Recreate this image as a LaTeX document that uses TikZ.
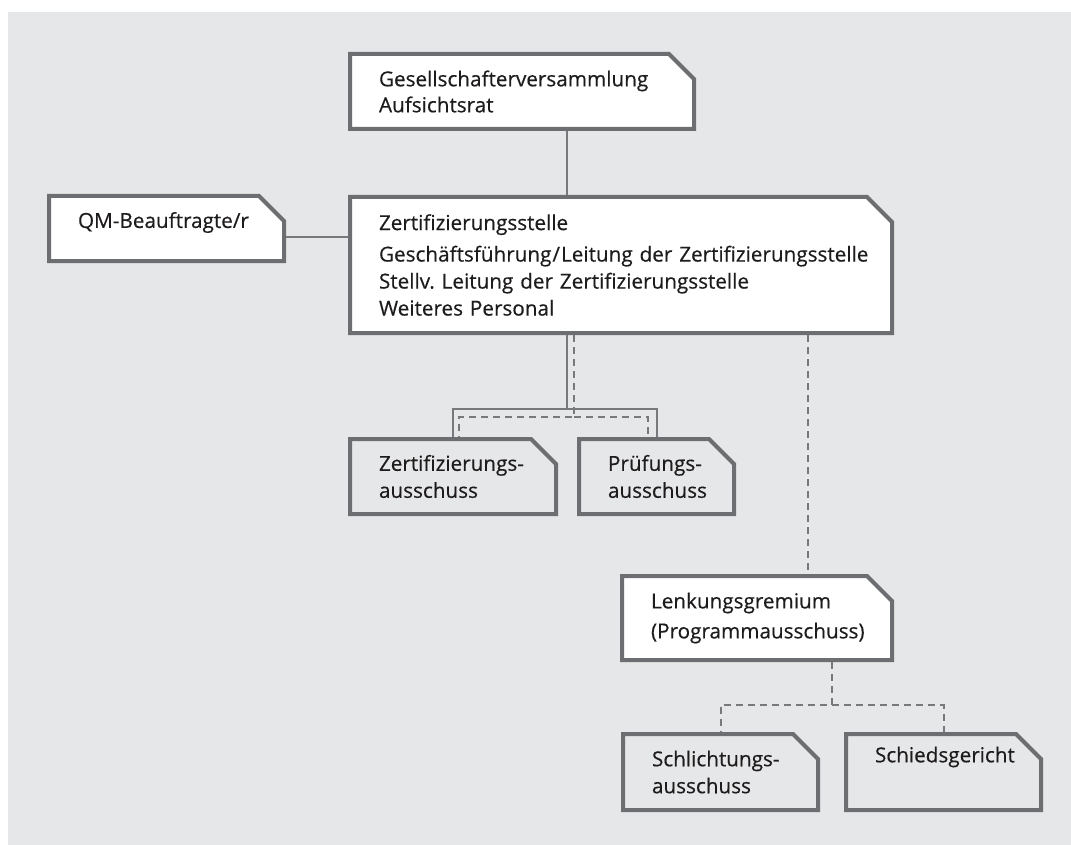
\documentclass[tikz,border=0pt]{standalone}
\usepackage{fontspec}
\setmainfont[FakeBold=0.4]{Open Sans}
\usetikzlibrary{calc,backgrounds}
\definecolor{bgc}{RGB}{230,231,232}
\definecolor{bordc}{RGB}{109,110,113}
\definecolor{linec}{RGB}{120,121,124}
\definecolor{txtc}{RGB}{30,27,28}
\tikzset{
  orgbox/.style={anchor=north west, inner xsep=31pt, inner ysep=0pt, outer sep=0pt,
    align=left, font=\fontsize{20.7}{27}\selectfont\frenchspacing, text=txtc},
  boxline/.style={draw=bordc, line width=4pt, line join=miter},
  conn/.style={draw=linec, line width=2pt},
  dconn/.style={conn, dash pattern=on 7pt off 5pt}
}
\newcommand\cutoutline[2]{%
  \draw[boxline, fill=#2] ($(#1.south west)+(2,-2)$) -- ($(#1.north west)+(2,2)$)
    -- ($(#1.north east)+(-27,2)$) -- ($(#1.north east)+(-2,27)$)
    -- ($(#1.south east)+(-2,-2)$) -- cycle;}
\begin{document}
\begin{tikzpicture}[x=1pt,y=-1pt]
\useasboundingbox (0,0) rectangle (1071,845);

\node[orgbox, text width=286pt, minimum height=79pt] (g) at (348,52)
  {\mbox{Gesellschafterversammlung}\\[-1pt]\mbox{Aufsichtsrat}};
\node[orgbox, text width=484pt, minimum height=140pt] (z) at (348,195)
  {\mbox{Zertifizierungsstelle}\\[4.5pt]\mbox{Geschäftsführung\kern1pt/\kern1pt Leitung der Zertifizierungsstelle}\\\mbox{Stellv. Leitung der Zertifizierungsstelle}\\\mbox{Weiteres Personal}};
\node[orgbox, text width=177pt, minimum height=69pt, text depth=17pt] (qm) at (47,194)
  {\mbox{QM-Beauftragte/r}};
\node[orgbox, text width=148pt, minimum height=79pt] (za) at (348,437)
  {\mbox{Zertifizierungs-}\\\mbox{ausschuss}};
\node[orgbox, text width=97pt, minimum height=79pt] (pa) at (577,437)
  {\mbox{Prüfungs-}\\\mbox{ausschuss}};
\node[orgbox, text width=212pt, minimum height=88pt] (lg) at (620,574)
  {\mbox{Lenkungsgremium}\\[3pt]\mbox{(Programmausschuss)}};
\node[orgbox, text width=137pt, minimum height=80pt] (sa) at (621,732)
  {\mbox{Schlichtungs-}\\\mbox{ausschuss}};
\node[orgbox, text width=137pt, minimum height=80pt] (sg) at (844,732)
  {\mbox{Schiedsgericht}\\\strut};

\begin{pgfonlayer}{background}
  \fill[white] (0,0) rectangle (1071,845);
  \fill[bgc] (8,12) rectangle (1071,845);
  \cutoutline{g}{white}
  \cutoutline{z}{white}
  \cutoutline{qm}{white}
  \cutoutline{lg}{white}
  \cutoutline{za}{bgc}
  \cutoutline{pa}{bgc}
  \cutoutline{sa}{bgc}
  \cutoutline{sg}{bgc}
\end{pgfonlayer}

% connectors
\draw[conn] ([xshift=45pt]g.south) -- ([xshift=45pt]g.south |- z.north);
\draw[conn] ([yshift=-8.5pt]qm.east) -- ([yshift=-8.5pt]qm.east -| z.west);
\draw[conn] ([xshift=45pt]g.south |- z.south) -- ++(0,74) -| (za.north);
\draw[conn] ([xshift=45pt]g.south |- z.south) ++(0,74) -| (pa.north);
\draw[dconn] ([xshift=52pt]g.south |- z.south) -- ++(0,82) -| ([xshift=6pt]za.north);
\draw[dconn] ([xshift=52pt]g.south |- z.south) ++(0,82) -| ([xshift=-8.5pt]pa.north);
\draw[dconn] ([xshift=51pt]lg.north |- z.south) -- ([xshift=51pt]lg.north);
\draw[dconn] ([xshift=75pt]lg.south) -- ++(0,43) -| (sa.north);
\draw[dconn] ([xshift=75pt]lg.south) ++(0,43) -| (sg.north);
\end{tikzpicture}
\end{document}
